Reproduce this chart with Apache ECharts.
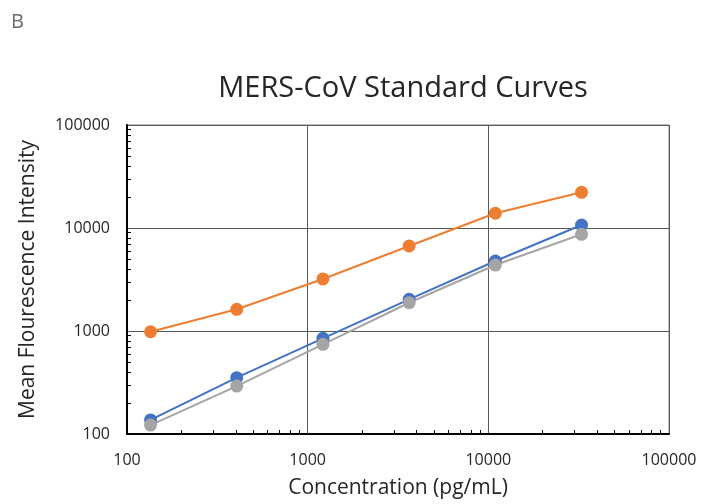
<!DOCTYPE html>
<html>
<head>
<meta charset="utf-8">
<script src="https://cdn.jsdelivr.net/npm/echarts@6/dist/echarts.min.js"></script>
<style>
html,body{margin:0;padding:0;background:#fff;}
#chart{width:701px;height:504px;}
</style>
</head>
<body>
<div id="chart"></div>
<script>
// ---- Data ----
const concentrations = [135, 405, 1215, 3645, 10935, 32805];
const seriesBlue   = [137, 352, 849, 2030, 4780, 10700];
const seriesOrange = [984, 1625, 3200, 6690, 13900, 22200];
const seriesGray   = [122, 292, 743, 1880, 4370, 8690];

const minorTickValues = [200, 300, 400, 500, 600, 700, 800, 900,
  2000, 3000, 4000, 5000, 6000, 7000, 8000, 9000,
  20000, 30000, 40000, 50000, 60000, 70000, 80000, 90000];
const xLabelValues = [100, 1000, 10000, 100000];
const yLabelValues = [100, 1000, 10000, 100000];

const titleText = 'MERS-CoV Standard Curves';
const panelLetter = 'B';
const xAxisName = 'Concentration (pg/mL)';
const yAxisName = 'Mean Flourescence Intensity';

const FONT = 'Open Sans';

function pairs(xs, ys) { return xs.map((x, i) => [x, ys[i]]); }

const chart = echarts.init(document.getElementById('chart'), null, {renderer: 'canvas'});

function lineSeries(name, color, values) {
  return {
    name: name,
    type: 'line',
    data: pairs(concentrations, values),
    symbol: 'circle',
    symbolSize: 13,
    itemStyle: {color: color},
    lineStyle: {color: color, width: 2},
    emphasis: {disabled: true},
    animation: false,
    z: 3
  };
}

const logRange = {type: 'log', logBase: 10, min: 100, max: 100000};

chart.setOption({
  animation: false,
  backgroundColor: '#ffffff',
  title: [
    {text: panelLetter, left: 6, top: 7,
     textStyle: {fontFamily: FONT, fontSize: 20, fontWeight: 'normal', color: '#6b6b6b'}},
    {text: titleText, left: 398, top: 69, textAlign: 'center',
     textStyle: {fontFamily: FONT, fontSize: 29, fontWeight: 'normal', color: '#262626'}}
  ],
  grid: {left: 127, right: 32, top: 125, bottom: 70, show: true,
         borderColor: '#7f7f7f', borderWidth: 1, containLabel: false},
  xAxis: [
    Object.assign({}, logRange, {
      name: xAxisName, nameLocation: 'middle', nameGap: 44,
      nameTextStyle: {fontFamily: FONT, fontSize: 21, color: '#262626'},
      axisLine: {show: true, onZero: false, lineStyle: {color: '#000', width: 2}},
      axisTick: {show: false},
      axisLabel: {customValues: xLabelValues, formatter: v => String(v), margin: 18,
                  fontFamily: FONT, fontSize: 16, color: '#262626'},
      splitLine: {show: true, lineStyle: {color: '#595959', width: 1}}
    }),
    Object.assign({}, logRange, {
      position: 'bottom', offset: 0,
      axisLine: {show: false, onZero: false},
      axisTick: {show: true, inside: true, length: 4, customValues: minorTickValues,
                 lineStyle: {color: '#000', width: 1}},
      axisLabel: {show: false},
      splitLine: {show: false}
    })
  ],
  yAxis: [
    Object.assign({}, logRange, {
      name: yAxisName, nameLocation: 'middle', nameGap: 88,
      nameTextStyle: {fontFamily: FONT, fontSize: 21, color: '#262626'},
      axisLine: {show: true, onZero: false, lineStyle: {color: '#000', width: 2}},
      axisTick: {show: false},
      axisLabel: {customValues: yLabelValues, formatter: v => String(v), margin: 17,
                  fontFamily: FONT, fontSize: 16, color: '#262626'},
      splitLine: {show: true, lineStyle: {color: '#595959', width: 1}}
    }),
    Object.assign({}, logRange, {
      position: 'left', offset: 0,
      axisLine: {show: false, onZero: false},
      axisTick: {show: true, inside: true, length: 4, customValues: minorTickValues,
                 lineStyle: {color: '#000', width: 1}},
      axisLabel: {show: false},
      splitLine: {show: false}
    })
  ],
  series: [
    lineSeries('Series 1', '#4472C4', seriesBlue),
    lineSeries('Series 3', '#A5A5A5', seriesGray),
    lineSeries('Series 2', '#ED7D31', seriesOrange)
  ]
});
</script>
</body>
</html>
